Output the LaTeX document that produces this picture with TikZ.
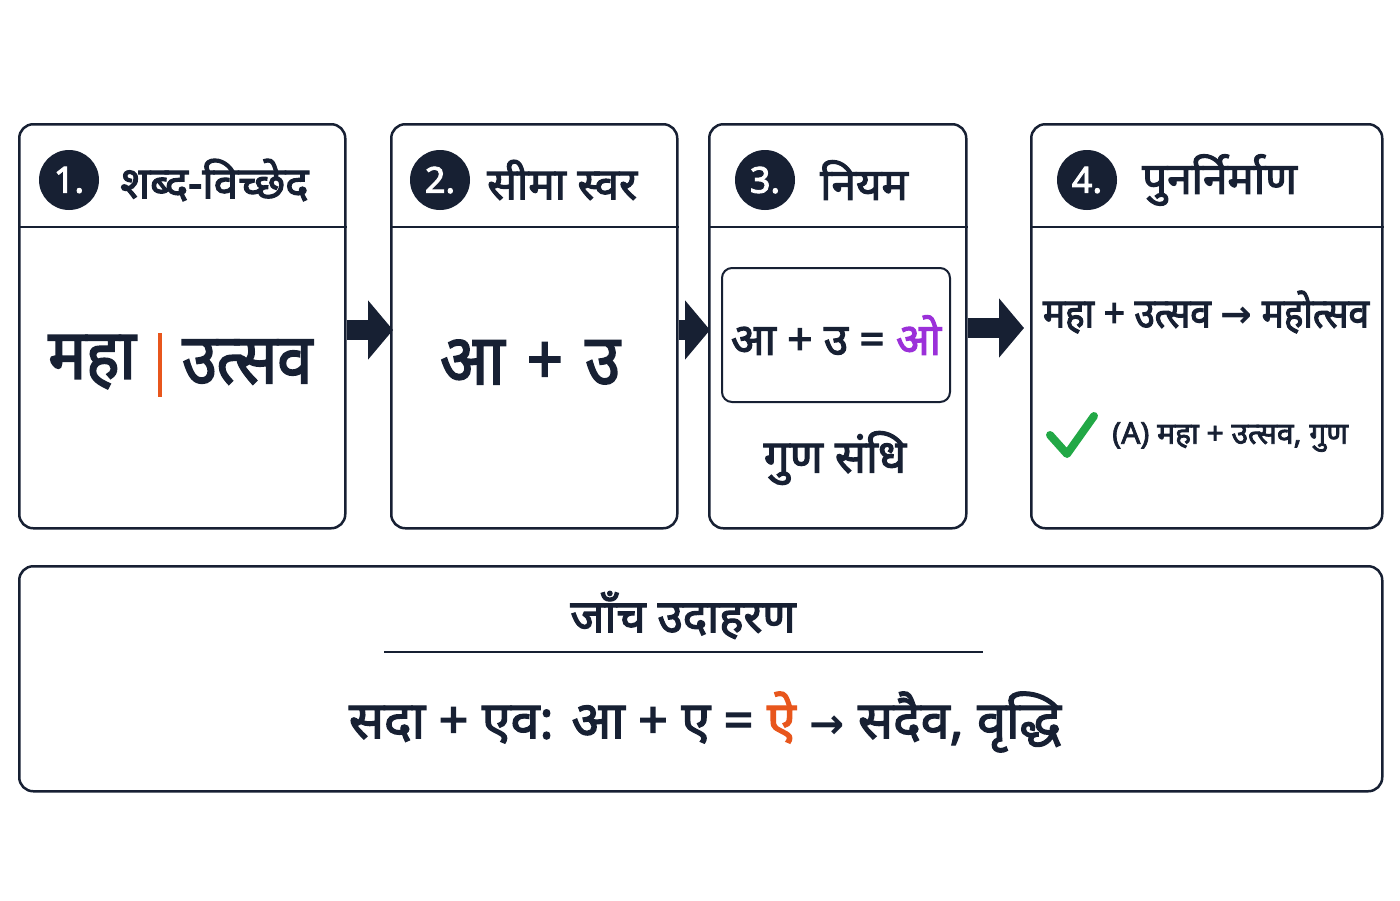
\documentclass[tikz,border=0pt]{standalone}
\usepackage{fontspec}
\setmainfont{Noto Sans}[Script=Devanagari, AutoFakeBold=2.5]
\newfontfamily\narrowfont{Noto Sans}[Script=Devanagari, AutoFakeBold=2.5, FakeStretch=0.9]
\newfontfamily\arrowfont{DejaVu Sans}
\usetikzlibrary{arrows.meta}
\definecolor{ink}{HTML}{172033}
\definecolor{accent}{HTML}{E8561C}
\definecolor{vowel}{HTML}{9B30D9}
\definecolor{okgreen}{HTML}{22A846}
\newcommand{\fs}[1]{\fontsize{#1}{#1}\selectfont}
\begin{document}
\begin{tikzpicture}[x=1pt,y=-1pt]
\useasboundingbox[fill=white] (0,0) rectangle (1400,900);
\tikzset{
  panel/.style={draw=ink, line width=2.5pt, rounded corners=14pt, anchor=north west, inner sep=0pt},
  badge/.style={circle, fill=ink, text=white, minimum size=60pt, inner sep=0pt, font=\bfseries\fs{36}},
  head/.style={anchor=west, text=ink, inner sep=0pt, font=\bfseries\fs{44}},
  divider/.style={draw=ink, line width=2.5pt},
  flow/.style={draw=ink, line width=20pt, -{Triangle[length=25pt,width=58pt]}},
  big/.style={text=ink, inner sep=0pt, font=\narrowfont\bfseries\fs{70}},
  mid/.style={text=ink, inner sep=0pt, font=\bfseries\fs{44}},
}
% panels
\node[panel, minimum width=326pt, minimum height=404pt] (p1) at (18,123) {};
\node[panel, minimum width=286pt, minimum height=404pt] (p2) at (390,123) {};
\node[panel, minimum width=257pt, minimum height=404pt] (p3) at (708,123) {};
\node[panel, minimum width=351pt, minimum height=404pt] (p4) at (1030,123) {};
\node[panel, minimum width=1363pt, minimum height=225pt] (p5) at (18,565) {};
% header dividers
\coordinate (hy) at (0,227);
\draw[divider] (p1.west |- hy) -- (p1.east |- hy);
\draw[divider] (p2.west |- hy) -- (p2.east |- hy);
\draw[divider] (p3.west |- hy) -- (p3.east |- hy);
\draw[divider] (p4.west |- hy) -- (p4.east |- hy);
% badges and titles
\node[badge] (b1) at (69,180) {1.};
\node[head] (t1) at (120,180) {शब्द-विच्छेद};
\node[badge] (b2) at (440,180) {2.};
\node[head] (t2) at (487,180) {सीमा स्वर};
\node[badge] (b3) at (765,180) {3.};
\node[head] (t3) at (820,180) {नियम};
\node[badge] (b4) at (1087,180) {4.};
\node[head] (t4) at (1142,180) {पुनर्निर्माण};
% arrows
\coordinate (a1) at (0,330);
\coordinate (a3) at (0,328);
\draw[flow] (p1.east |- a1) -- ([xshift=3pt]p2.west |- a1);
\draw[flow] (p2.east |- a1) -- ([xshift=2pt]p3.west |- a1);
\draw[flow] (p3.east |- a3) -- ([xshift=-6pt]p4.west |- a3);
% panel 1
\node[big, anchor=east] (w1) at (136,362) {महा};
\draw[accent, line width=4pt] (160,333) -- (160,397);
\node[big, anchor=west] (w2) at (182,362) {उत्सव};
% panel 2
\node[big] (w3) at (530,362) {आ\hspace{0.32em}+\hspace{0.32em}उ};
% panel 3
\node[draw=ink, line width=2pt, rounded corners=10pt, minimum width=228pt, minimum height=134pt, inner sep=0pt] (rule) at (836,335) {};
\node[mid] (eq) at (rule.center) {आ + उ = \textcolor{vowel}{ओ}};
\node[text=ink, inner sep=0pt, font=\bfseries\fs{46}] (gs) at (835,458) {गुण संधि};
% panel 4
\node[text=ink, inner sep=0pt, font=\narrowfont\bfseries\fs{41}] (res) at (1206,312) {महा + उत्सव {\arrowfont\bfseries\fs{38}→} महोत्सव};
\draw[okgreen, line width=8pt, line cap=round, line join=round] (1050,435) -- (1067,454) -- (1094,416);
\node[text=ink, inner sep=0pt, anchor=west, font=\bfseries\fs{30}] (ans) at (1112,437) {(A) महा + उत्सव, गुण};
% bottom panel
\node[text=ink, inner sep=0pt, font=\bfseries\fs{46}] (chk) at (683,615) {जाँच उदाहरण};
\draw[ink, line width=2.5pt] (384,652) -- (983,652);
\node[text=ink, inner sep=0pt, font=\bfseries\fs{52}] (ex) at (705,722) {सदा + एव: आ + ए = \textcolor{accent}{ऐ} {\arrowfont\bfseries\fs{42}→} सदैव, वृद्धि};
\end{tikzpicture}
\end{document}
